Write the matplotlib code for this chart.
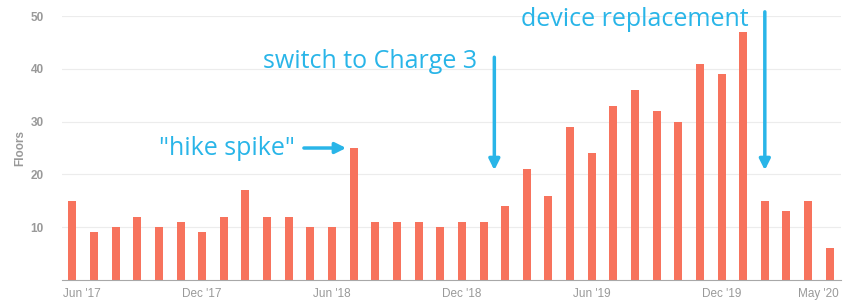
import matplotlib.pyplot as plt
import matplotlib.transforms as mtransforms
import numpy as np

months = ["Jun '17", "Jul '17", "Aug '17", "Sep '17", "Oct '17", "Nov '17",
          "Dec '17", "Jan '18", "Feb '18", "Mar '18", "Apr '18", "May '18",
          "Jun '18", "Jul '18", "Aug '18", "Sep '18", "Oct '18", "Nov '18",
          "Dec '18", "Jan '19", "Feb '19", "Mar '19", "Apr '19", "May '19",
          "Jun '19", "Jul '19", "Aug '19", "Sep '19", "Oct '19", "Nov '19",
          "Dec '19", "Jan '20", "Feb '20", "Mar '20", "Apr '20", "May '20"]
floors = [15, 9, 10, 12, 10, 11, 9, 12, 17, 12, 12, 10,
          10, 25, 11, 11, 11, 10, 11, 11, 14, 21, 16, 29,
          24, 33, 36, 32, 30, 41, 39, 47, 15, 13, 15, 6]
tick_labels = ["Jun '17", "Dec '17", "Jun '18", "Dec '18", "Jun '19", "Dec '19", "May '20"]

bar_color = "#f7735d"
note_color = "#29b5e8"
gray = "#999999"

fig = plt.figure(figsize=(8.67, 3.03), dpi=100)
ax = fig.add_axes([0.0715, 0.076, 0.898, 0.871])

x = np.arange(len(months))
ax.bar(x, floors, width=0.37, color=bar_color, zorder=2)

ax.set_xlim(-0.48, 35.5)
ax.set_ylim(0, 50)
ax.set_yticks([10, 20, 30, 40, 50])
ax.set_xticks([months.index(t) for t in tick_labels])
ax.set_xticklabels(tick_labels)
ax.tick_params(axis="both", length=0, labelsize=8.5, colors=gray, labelfontfamily="Liberation Sans")
ax.tick_params(axis="x", pad=6)
ax.tick_params(axis="y", pad=13)
for lab in ax.get_yticklabels():
    lab.set_fontweight("bold")

# first and last labels are pushed inside the plot area
xl = ax.get_xticklabels()
xl[0].set_transform(xl[0].get_transform() + mtransforms.ScaledTranslation(0.09, 0, fig.dpi_scale_trans))
xl[-1].set_transform(xl[-1].get_transform() + mtransforms.ScaledTranslation(-0.11, 0, fig.dpi_scale_trans))

ax.grid(axis="y", color="#ececec", linewidth=0.8, zorder=0)
for s in ["top", "right", "left"]:
    ax.spines[s].set_visible(False)
ax.spines["bottom"].set_color("#a8a8a8")
ax.set_ylabel("Floors", fontsize=8.5, color=gray, fontweight="bold", family="Liberation Sans", labelpad=3)

font = dict(fontsize=18, color=note_color, family="Open Sans")
arrow = dict(arrowstyle="-|>", color=note_color, lw=2.5, mutation_scale=16, shrinkA=0, shrinkB=0)

ax.text(10.3, 25.0, '"hike spike"', ha="right", va="center", **font)
ax.annotate("", xy=(12.65, 25.0), xytext=(10.7, 25.0), arrowprops=arrow)

ax.text(18.7, 41.3, "switch to Charge 3", ha="right", va="center", **font)
ax.annotate("", xy=(19.5, 20.8), xytext=(19.5, 42.2), arrowprops=arrow)

ax.text(31.25, 49.3, "device replacement", ha="right", va="center", **font)
ax.annotate("", xy=(32.0, 20.8), xytext=(32.0, 50.8), arrowprops=arrow, annotation_clip=False)

fig.savefig("out.png", dpi=100)
